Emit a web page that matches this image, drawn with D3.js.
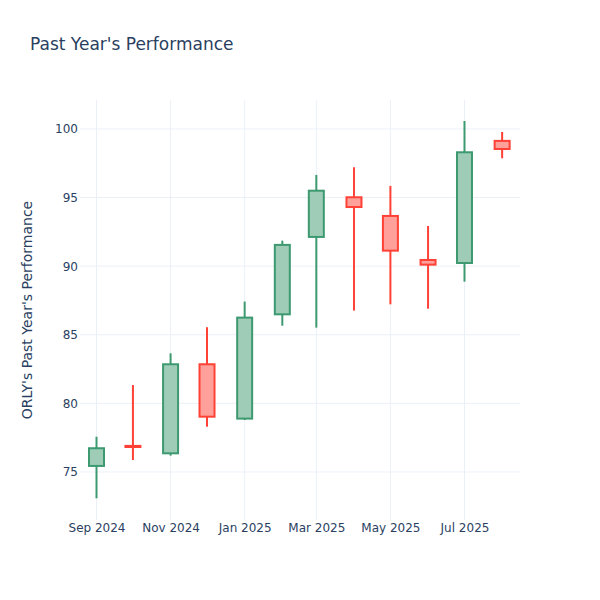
<!DOCTYPE html>
<html><head><meta charset="utf-8">
<script src="https://cdn.jsdelivr.net/npm/d3@7/dist/d3.min.js"></script>
<style>body{margin:0;background:#fff}svg{display:block}text{font-family:"DejaVu Sans",Verdana,sans-serif}</style>
</head><body><svg id="c" width="600" height="600"></svg>
<script>
const dates = ["2024-09-01","2024-10-01","2024-11-01","2024-12-01","2025-01-01","2025-02-01","2025-03-01","2025-04-01","2025-05-01","2025-06-01","2025-07-01","2025-08-01"];
const open  = [75.44, 76.90, 76.36, 82.85, 78.89, 86.49, 92.13, 95.02, 93.66, 90.45, 90.23, 99.13];
const high  = [77.57, 81.34, 83.65, 85.55, 87.42, 91.86, 96.65, 97.21, 95.85, 92.93, 100.58, 99.78];
const low   = [73.08, 75.87, 76.19, 78.30, 78.79, 85.66, 85.52, 86.76, 87.22, 86.90, 88.87, 97.86];
const close = [76.73, 76.82, 82.85, 79.03, 86.25, 91.55, 95.50, 94.31, 91.13, 90.11, 98.30, 98.54];
const xTicks = ["2024-09-01","2024-11-01","2025-01-01","2025-03-01","2025-05-01","2025-07-01"];
const yTicks = [75, 80, 85, 90, 95, 100];

const W=600,H=600,m={l:80,r:80,t:100,b:80};
const svg=d3.select("#c");
const pd=d3.utcParse("%Y-%m-%d");
const x=d3.scaleUtc().domain([new Date(Date.UTC(2024,7,18,10)),new Date(Date.UTC(2025,7,15,17))]).range([m.l,W-m.r]);
const y=d3.scaleLinear().domain([71.5,102.11]).range([H-m.b,m.t]);

// grid
const g=svg.append("g");
g.selectAll(".gy").data(yTicks).join("line").attr("x1",m.l).attr("x2",W-m.r)
 .attr("y1",d=>y(d)).attr("y2",d=>y(d)).attr("stroke","#EBF0F8").attr("stroke-width",1);
g.selectAll(".gx").data(xTicks).join("line").attr("y1",m.t).attr("y2",H-m.b)
 .attr("x1",d=>x(pd(d))).attr("x2",d=>x(pd(d))).attr("stroke","#EBF0F8").attr("stroke-width",1);

// axes
const xa=svg.append("g").attr("transform",`translate(0,${H-m.b})`)
 .call(d3.axisBottom(x).tickValues(xTicks.map(pd)).tickFormat(d3.utcFormat("%b %Y")).tickSize(0).tickPadding(3.5));
xa.select(".domain").remove();
xa.selectAll("text").attr("fill","#2a3f5f").style("font-size","12px");
const ya=svg.append("g").attr("transform",`translate(${m.l},0)`)
 .call(d3.axisLeft(y).tickValues(yTicks).tickSize(0).tickPadding(2));
ya.select(".domain").remove();
ya.selectAll("text").attr("fill","#2a3f5f").style("font-size","12px");

const data=dates.map((d,i)=>({d:pd(d),o:open[i],h:high[i],l:low[i],c:close[i]}));
const inc="#3D9970",dec="#FF4136";
const bw=15;
const cg=svg.append("g");
data.forEach(p=>{
  const col=p.c>=p.o?inc:dec;
  const cx=x(p.d);
  cg.append("line").attr("x1",cx).attr("x2",cx).attr("y1",y(p.h)).attr("y2",y(p.l)).attr("stroke",col).attr("stroke-width",2);
  const top=y(Math.max(p.o,p.c)),bot=y(Math.min(p.o,p.c));
  cg.append("rect").attr("x",cx-bw/2).attr("width",bw).attr("y",top).attr("height",Math.max(bot-top,0.5))
   .attr("fill","#fff").attr("stroke","none");
  cg.append("rect").attr("x",cx-bw/2).attr("width",bw).attr("y",top).attr("height",Math.max(bot-top,0.5))
   .attr("fill",col).attr("fill-opacity",0.5).attr("stroke",col).attr("stroke-width",2);
});

svg.append("text").attr("x",30).attr("y",50).text("Past Year's Performance").attr("fill","#2a3f5f").style("font-size","17px");
svg.append("text").attr("transform",`translate(32,${(m.t+H-m.b)/2}) rotate(-90)`).attr("text-anchor","middle")
 .text("ORLY's Past Year's Performance").attr("fill","#2a3f5f").style("font-size","14px");
</script></body></html>
